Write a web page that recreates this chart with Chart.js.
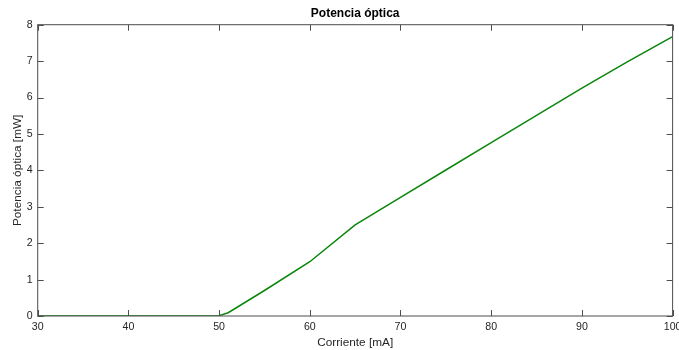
<!DOCTYPE html>
<html>
<head>
<meta charset="utf-8">
<script src="https://cdn.jsdelivr.net/npm/chart.js@4"></script>
<style>
  body { margin: 0; background: #fff; }
  #wrap { width: 679px; height: 350px; }
</style>
</head>
<body>
<div id="wrap"><canvas id="potencia"></canvas></div>
<script>
// corriente [mA] y potencia óptica [mW]
const corriente = [30, 35, 40, 45, 50, 51, 55, 60, 65, 70, 75, 80, 85, 90, 95, 100]
const potencia  = [0, 0, 0, 0, 0.01, 0.09, 0.70, 1.49, 2.50, 3.26, 4.01, 4.76, 5.51, 6.26, 6.98, 7.67]

const xTicks = [30, 40, 50, 60, 70, 80, 90, 100]
const yTicks = [0, 1, 2, 3, 4, 5, 6, 7, 8]
const titulo = 'Potencia óptica'

// ejes tipo caja con marcas hacia dentro, y título centrado sobre el área
const boxTicks = {
  id: 'boxTicks',
  afterDatasetsDraw(chart) {
    const { ctx, chartArea: a, scales } = chart
    ctx.save()
    ctx.strokeStyle = '#4d4d4d'
    ctx.lineWidth = 1
    ctx.strokeRect(a.left, a.top, a.right - a.left, a.bottom - a.top)
    ctx.beginPath()
    xTicks.forEach(v => {
      const px = Math.round(scales.x.getPixelForValue(v)) + 0.5
      ctx.moveTo(px, a.bottom); ctx.lineTo(px, a.bottom - 6)
      ctx.moveTo(px, a.top); ctx.lineTo(px, a.top + 6)
    })
    yTicks.forEach(v => {
      const py = Math.round(scales.y.getPixelForValue(v)) + 0.5
      ctx.moveTo(a.left, py); ctx.lineTo(a.left + 6, py)
      ctx.moveTo(a.right, py); ctx.lineTo(a.right - 6, py)
    })
    ctx.stroke()
    ctx.fillStyle = '#000'
    ctx.font = 'bold 12px "Liberation Sans", Arial, sans-serif'
    ctx.textAlign = 'center'
    ctx.textBaseline = 'middle'
    ctx.fillText(titulo, (a.left + a.right) / 2, a.top - 11)
    ctx.restore()
  }
}

Chart.defaults.font.family = '"Liberation Sans", Arial, sans-serif'
Chart.defaults.color = '#262626'

new Chart(
  document.getElementById('potencia'),
  {
    type: 'line',
    data: {
      datasets: [
        {
          data: corriente.map((x, i) => ({ x: x, y: potencia[i] })),
          borderColor: '#0a860a',
          borderWidth: 1.5,
          pointRadius: 0,
          tension: 0
        }
      ]
    },
    options: {
      responsive: true,
      maintainAspectRatio: false,
      animation: false,
      layout: { padding: { left: 0, right: 6.4, top: 24.7, bottom: 0 } },
      plugins: {
        legend: { display: false },
        tooltip: { enabled: false },
        title: { display: false }
      },
      scales: {
        x: {
          type: 'linear',
          min: 30,
          max: 100,
          afterBuildTicks: s => { s.ticks = xTicks.map(v => ({ value: v })) },
          afterFit: s => { s.height = 34; s.paddingLeft = 0; s.paddingRight = 0 },
          grid: { display: false, drawTicks: false },
          border: { display: false },
          ticks: { font: { size: 10.6 }, padding: 5, maxRotation: 0 },
          title: { display: true, text: 'Corriente [mA]', font: { size: 11.8 }, padding: { top: 0, bottom: 0 } }
        },
        y: {
          min: 0,
          max: 8,
          afterBuildTicks: s => { s.ticks = yTicks.map(v => ({ value: v })) },
          afterFit: s => { s.width = 37.7; s.paddingTop = 0; s.paddingBottom = 0 },
          grid: { display: false, drawTicks: false },
          border: { display: false },
          ticks: { font: { size: 10.6 }, padding: 5 },
          title: { display: true, text: 'Potencia óptica [mW]', font: { size: 11.8 }, padding: { top: 11, bottom: 0 } }
        }
      }
    },
    plugins: [boxTicks]
  }
)
</script>
</body>
</html>
